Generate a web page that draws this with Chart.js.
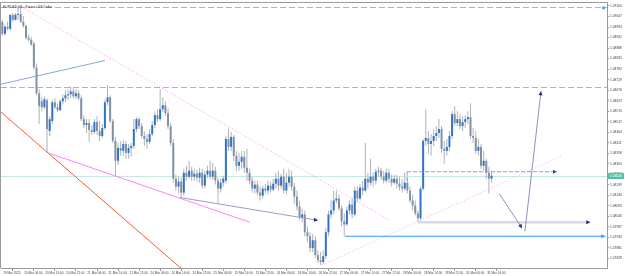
<!DOCTYPE html>
<html>
<head>
<meta charset="utf-8">
<script src="https://cdn.jsdelivr.net/npm/chart.js@4.4.1/dist/chart.umd.min.js"></script>
<style>
html,body{margin:0;padding:0;background:#fff;overflow:hidden}
canvas{display:block}
</style>
</head>
<body>
<canvas id="chart" width="625" height="276"></canvas>
<script>
const chartTitle = 'EURUSD,H1:  Euro vs US Dollar';

// one label every 8 bars
const timeLabels = ['19 Mar 2025','20 Mar 06:00','20 Mar 14:00','20 Mar 22:00','21 Mar 06:00','21 Mar 14:00',
  '21 Mar 22:00','24 Mar 06:00','24 Mar 14:00','24 Mar 22:00','25 Mar 06:00','25 Mar 14:00','25 Mar 22:00',
  '26 Mar 06:00','26 Mar 14:00','26 Mar 22:00','27 Mar 06:00','27 Mar 14:00','27 Mar 22:00','28 Mar 06:00',
  '28 Mar 14:00','28 Mar 22:00','31 Mar 06:00','31 Mar 14:00'];

const priceTicks = [1.09100,1.09047,1.08994,1.08941,1.08888,1.08835,1.08782,1.08729,1.08676,1.08623,
  1.08570,1.08517,1.08464,1.08411,1.08358,1.08305,1.08252,1.08199,1.08146,1.08093,1.08040,1.07987,
  1.07934,1.07881,1.07828];

// open, high, low, close
const ohlc = [
[1.09020,1.09030,1.08950,1.08960],[1.08960,1.09005,1.08950,1.08995],[1.08995,1.09020,1.08975,1.08985],
[1.08985,1.09060,1.08975,1.09055],[1.09055,1.09065,1.09020,1.09030],[1.09030,1.09065,1.09025,1.09055],
[1.09055,1.09095,1.09030,1.09060],[1.09060,1.09095,1.09015,1.09020],[1.09020,1.09050,1.08990,1.09000],
[1.09000,1.09005,1.08930,1.08940],[1.08940,1.08955,1.08920,1.08930],[1.08930,1.08945,1.08900,1.08905],
[1.08910,1.08920,1.08780,1.08790],[1.08790,1.08810,1.08650,1.08660],[1.08660,1.08680,1.08505,1.08595],
[1.08620,1.08640,1.08570,1.08590],[1.08590,1.08645,1.08580,1.08630],[1.08625,1.08635,1.08360,1.08480],
[1.08470,1.08545,1.08445,1.08530],[1.08520,1.08625,1.08505,1.08615],[1.08615,1.08635,1.08580,1.08590],
[1.08590,1.08610,1.08565,1.08575],[1.08575,1.08630,1.08570,1.08620],[1.08620,1.08655,1.08605,1.08635],
[1.08635,1.08675,1.08615,1.08650],[1.08650,1.08680,1.08625,1.08655],[1.08655,1.08695,1.08635,1.08670],
[1.08670,1.08685,1.08635,1.08645],[1.08645,1.08680,1.08630,1.08660],[1.08660,1.08675,1.08625,1.08635],
[1.08635,1.08650,1.08520,1.08530],[1.08530,1.08550,1.08485,1.08500],[1.08500,1.08530,1.08460,1.08510],
[1.08510,1.08530,1.08415,1.08475],[1.08475,1.08500,1.08450,1.08465],[1.08465,1.08530,1.08455,1.08515],
[1.08515,1.08545,1.08450,1.08470],[1.08470,1.08520,1.08420,1.08445],[1.08445,1.08505,1.08435,1.08485],
[1.08485,1.08630,1.08475,1.08615],[1.08615,1.08700,1.08600,1.08640],[1.08640,1.08650,1.08510,1.08520],
[1.08520,1.08530,1.08410,1.08420],[1.08420,1.08440,1.08245,1.08320],[1.08320,1.08410,1.08300,1.08385],
[1.08385,1.08420,1.08345,1.08370],[1.08370,1.08425,1.08345,1.08405],[1.08405,1.08420,1.08330,1.08360],
[1.08360,1.08405,1.08330,1.08385],[1.08385,1.08410,1.08340,1.08395],[1.08395,1.08530,1.08380,1.08480],
[1.08480,1.08540,1.08465,1.08530],[1.08530,1.08540,1.08480,1.08495],[1.08495,1.08510,1.08435,1.08445],
[1.08445,1.08470,1.08395,1.08430],[1.08430,1.08455,1.08380,1.08415],[1.08415,1.08480,1.08405,1.08455],
[1.08455,1.08520,1.08445,1.08500],[1.08500,1.08570,1.08485,1.08550],[1.08550,1.08580,1.08515,1.08530],
[1.08530,1.08680,1.08520,1.08580],[1.08580,1.08640,1.08565,1.08600],[1.08600,1.08620,1.08545,1.08560],
[1.08560,1.08585,1.08480,1.08495],[1.08495,1.08510,1.08395,1.08410],[1.08410,1.08430,1.08210,1.08230],
[1.08230,1.08250,1.08170,1.08190],[1.08190,1.08240,1.08155,1.08215],[1.08215,1.08235,1.08135,1.08160],
[1.08160,1.08280,1.08145,1.08260],[1.08260,1.08295,1.08220,1.08240],[1.08240,1.08320,1.08230,1.08270],
[1.08270,1.08290,1.08220,1.08240],[1.08240,1.08280,1.08220,1.08255],[1.08255,1.08275,1.08215,1.08235],
[1.08235,1.08285,1.08210,1.08260],[1.08260,1.08280,1.08180,1.08195],[1.08195,1.08270,1.08180,1.08250],
[1.08250,1.08295,1.08235,1.08270],[1.08270,1.08320,1.08230,1.08240],[1.08240,1.08310,1.08225,1.08270],
[1.08270,1.08290,1.08200,1.08220],[1.08220,1.08235,1.08105,1.08180],[1.08180,1.08230,1.08160,1.08210],
[1.08210,1.08245,1.08190,1.08230],[1.08220,1.08445,1.08205,1.08430],[1.08430,1.08480,1.08370,1.08390],
[1.08390,1.08465,1.08370,1.08440],[1.08440,1.08450,1.08320,1.08345],[1.08345,1.08370,1.08270,1.08295],
[1.08295,1.08360,1.08270,1.08315],[1.08315,1.08370,1.08280,1.08340],[1.08340,1.08370,1.08260,1.08285],
[1.08285,1.08380,1.08220,1.08260],[1.08260,1.08280,1.08200,1.08220],[1.08220,1.08240,1.08160,1.08180],
[1.08180,1.08220,1.08155,1.08200],[1.08200,1.08220,1.08145,1.08160],[1.08160,1.08190,1.08120,1.08145],
[1.08145,1.08195,1.08130,1.08180],[1.08180,1.08205,1.08155,1.08170],[1.08170,1.08220,1.08150,1.08195],
[1.08195,1.08215,1.08160,1.08175],[1.08175,1.08230,1.08165,1.08205],[1.08205,1.08260,1.08180,1.08230],
[1.08230,1.08270,1.08170,1.08195],[1.08195,1.08255,1.08180,1.08240],[1.08240,1.08280,1.08155,1.08170],
[1.08170,1.08260,1.08150,1.08210],[1.08210,1.08280,1.08190,1.08240],[1.08240,1.08270,1.08170,1.08190],
[1.08190,1.08210,1.08105,1.08140],[1.08140,1.08170,1.08070,1.08090],[1.08090,1.08120,1.08020,1.08035],
[1.08035,1.08080,1.08010,1.08050],[1.08050,1.08070,1.07940,1.07960],[1.07960,1.07990,1.07910,1.07940],
[1.07940,1.07960,1.07860,1.07880],[1.07880,1.07950,1.07860,1.07920],[1.07920,1.07940,1.07830,1.07845],
[1.07845,1.07870,1.07805,1.07820],[1.07820,1.07860,1.07795,1.07810],[1.07810,1.07870,1.07800,1.07840],
[1.07840,1.07980,1.07825,1.07960],[1.07960,1.08070,1.07940,1.08050],[1.08050,1.08120,1.08030,1.08070],
[1.08070,1.08170,1.08050,1.08120],[1.08120,1.08170,1.08105,1.08130],[1.08130,1.08150,1.08070,1.08080],
[1.08080,1.08095,1.07990,1.08015],[1.08015,1.08055,1.07940,1.08000],[1.08000,1.08090,1.07990,1.08070],
[1.08070,1.08120,1.08050,1.08100],[1.08100,1.08130,1.08030,1.08050],[1.08050,1.08190,1.08040,1.08170],
[1.08170,1.08190,1.08110,1.08130],[1.08130,1.08205,1.08120,1.08185],[1.08185,1.08220,1.08145,1.08170],
[1.08170,1.08410,1.08160,1.08230],[1.08230,1.08260,1.08180,1.08210],[1.08210,1.08330,1.08195,1.08240],
[1.08240,1.08260,1.08190,1.08220],[1.08220,1.08280,1.08200,1.08265],[1.08265,1.08290,1.08240,1.08270],
[1.08270,1.08285,1.08225,1.08240],[1.08240,1.08270,1.08205,1.08220],[1.08220,1.08280,1.08210,1.08260],
[1.08260,1.08280,1.08210,1.08230],[1.08230,1.08250,1.08190,1.08210],[1.08210,1.08250,1.08200,1.08230],
[1.08230,1.08250,1.08180,1.08205],[1.08205,1.08240,1.08170,1.08190],[1.08190,1.08230,1.08160,1.08180],
[1.08180,1.08260,1.08170,1.08210],[1.08210,1.08240,1.08155,1.08170],[1.08170,1.08190,1.08110,1.08120],
[1.08120,1.08150,1.08070,1.08095],[1.08095,1.08120,1.08045,1.08055],[1.08055,1.08070,1.08010,1.08030],
[1.08030,1.08190,1.08020,1.08180],[1.08180,1.08430,1.08170,1.08420],[1.08420,1.08580,1.08395,1.08435],
[1.08435,1.08470,1.08355,1.08405],[1.08405,1.08455,1.08345,1.08420],[1.08420,1.08480,1.08395,1.08445],
[1.08445,1.08495,1.08420,1.08460],[1.08460,1.08530,1.08435,1.08480],[1.08480,1.08495,1.08360,1.08380],
[1.08380,1.08420,1.08305,1.08370],[1.08370,1.08430,1.08345,1.08390],[1.08390,1.08470,1.08370,1.08445],
[1.08445,1.08570,1.08430,1.08555],[1.08555,1.08595,1.08495,1.08510],[1.08510,1.08570,1.08495,1.08530],
[1.08530,1.08555,1.08480,1.08495],[1.08495,1.08545,1.08470,1.08515],[1.08515,1.08550,1.08485,1.08530],
[1.08530,1.08570,1.08505,1.08540],[1.08540,1.08610,1.08430,1.08445],[1.08445,1.08485,1.08410,1.08435],
[1.08435,1.08470,1.08355,1.08370],[1.08370,1.08430,1.08345,1.08390],[1.08390,1.08405,1.08280,1.08295],
[1.08295,1.08370,1.08270,1.08320],[1.08320,1.08330,1.08230,1.08260],[1.08260,1.08290,1.08155,1.08230],
[1.08230,1.08270,1.08210,1.08245]
];

// drawn objects, in bar index / price
const levelLines = [1.09095, 1.08690];
const trendLines = [
  [-0.9, 1.08705, 39.0, 1.08825],
  [7.4, 1.09095, 147.4, 1.08020],
  [-0.9, 1.08570, 75.2, 1.07695],
  [17.4, 1.08360, 94.2, 1.08010],
  [67.6, 1.08135, 120.0, 1.08020],
  [121.6, 1.07795, 212.8, 1.08345],
  [130.3, 1.07940, 229.2, 1.07940],
  [158.1, 1.08010, 223.5, 1.08010],
  [153.9, 1.08265, 210.9, 1.08265],
  [153.9, 1.08265, 153.9, 1.08220],
  [188.9, 1.08155, 197.6, 1.07980],
  [198.7, 1.07965, 204.8, 1.08670]
];
const levelMarker = [228.6, 1.09090];

const lineStyles = [
  {color: '#8aa6e6', width: 1},
  {color: '#ff8cff', width: 1, dash: [1, 2]},
  {color: '#ff5533', width: 1},
  {color: '#ff80ff', width: 1},
  {color: '#9b9bc9', width: 1, arrow: '#232b82'},
  {color: '#ff9cff', width: 1, dash: [1, 2]},
  {color: '#3399ff', width: 1.2, arrow: '#3399ff'},
  {color: '#dcd8ec', width: 2.5, arrow: '#252a80'},
  {color: '#9696e0', width: 1, dash: [4, 2], arrow: '#3a3ad0'},
  {color: '#9696e0', width: 1, dash: [4, 2]},
  {color: '#8f8fbf', width: 1, arrow: '#252a80'},
  {color: '#8f8fbf', width: 1, arrow: '#252a80'}
];

const bullColor = '#2f74c8';
const bearColor = '#8190a6';
const wickColor = '#aeb2b8';
const fontFamily = '"Liberation Sans", "DejaVu Sans", sans-serif';
const lastClose = ohlc[ohlc.length - 1][3];

function seg(ctx, x1, y1, x2, y2, color, width, dash) {
    ctx.beginPath();
    ctx.strokeStyle = color;
    ctx.lineWidth = width;
    ctx.setLineDash(dash || []);
    ctx.moveTo(x1, y1);
    ctx.lineTo(x2, y2);
    ctx.stroke();
    ctx.setLineDash([]);
}

function arrowHead(ctx, x1, y1, x2, y2, color) {
    const a = Math.atan2(y2 - y1, x2 - x1);
    const len = 4, half = 2;
    ctx.beginPath();
    ctx.fillStyle = color;
    ctx.moveTo(x2, y2);
    ctx.lineTo(x2 - len * Math.cos(a) + half * Math.sin(a), y2 - len * Math.sin(a) - half * Math.cos(a));
    ctx.lineTo(x2 - len * Math.cos(a) - half * Math.sin(a), y2 - len * Math.sin(a) + half * Math.cos(a));
    ctx.closePath();
    ctx.fill();
}

const drawings = {
    id: 'drawings',
    beforeDatasetsDraw(chart) {
        const {ctx, chartArea: a, scales: {x, y}} = chart;
        ctx.save();
        ctx.beginPath();
        ctx.rect(a.left, a.top, a.right - a.left, a.bottom - a.top);
        ctx.clip();
        levelLines.forEach(p => {
            const py = Math.round(y.getPixelForValue(p)) + 0.5;
            seg(ctx, a.left, py, a.right, py, '#8cbdf2', 1, [6, 3]);
        });
        const by = Math.round(y.getPixelForValue(lastClose)) + 0.5;
        seg(ctx, a.left, by, a.right, by, '#c4e9df', 1);
        ctx.restore();
    },
    afterDatasetsDraw(chart) {
        const {ctx, chartArea: a, scales: {x, y}} = chart;
        ctx.save();
        ctx.beginPath();
        ctx.rect(a.left, a.top, a.right - a.left, a.bottom - a.top);
        ctx.clip();
        trendLines.forEach((t, k) => {
            const st = lineStyles[k];
            const x1 = x.getPixelForValue(t[0]), y1 = y.getPixelForValue(t[1]);
            const x2 = x.getPixelForValue(t[2]), y2 = y.getPixelForValue(t[3]);
            seg(ctx, x1, y1, x2, y2, st.color, st.width, st.dash);
            if (st.arrow) arrowHead(ctx, x1, y1, x2, y2, st.arrow);
        });
        ctx.beginPath();
        ctx.fillStyle = '#5aa0f0';
        ctx.arc(x.getPixelForValue(levelMarker[0]), y.getPixelForValue(levelMarker[1]), 1.6, 0, Math.PI * 2);
        ctx.fill();
        ctx.restore();
    },
    afterDraw(chart) {
        const {ctx, chartArea: a, scales: {y}} = chart;
        ctx.save();
        seg(ctx, a.left - 0.5, a.top - 0.5, a.right, a.top - 0.5, '#9a9a9a', 1);
        seg(ctx, a.left - 0.5, a.top - 0.5, a.left - 0.5, a.bottom, '#9a9a9a', 1);
        ctx.font = '3.4px ' + fontFamily;
        ctx.fillStyle = '#333';
        ctx.textBaseline = 'top';
        ctx.textAlign = 'left';
        ctx.fillText(chartTitle, a.left + 2, a.top + 2);
        // current price box
        const by = Math.round(y.getPixelForValue(lastClose));
        ctx.fillStyle = '#52c0a4';
        ctx.fillRect(a.right + 1, by - 3, 16, 6);
        ctx.fillStyle = '#ffffff';
        ctx.textBaseline = 'middle';
        ctx.fillText(lastClose.toFixed(5), a.right + 3, by + 0.5);
        ctx.restore();
    }
};

const ctx = document.getElementById('chart').getContext('2d');
new Chart(ctx, {
    type: 'bar',
    data: {
        datasets: [{
            label: 'body',
            data: ohlc.map((c, i) => ({x: i, y: [c[0], c[3]]})),
            backgroundColor: ohlc.map(c => c[3] >= c[0] ? bullColor : bearColor),
            barThickness: 2,
            inflateAmount: 0,
            grouped: false,
            order: 0
        }, {
            label: 'wick',
            data: ohlc.map((c, i) => ({x: i, y: [c[2], c[1]]})),
            backgroundColor: wickColor,
            barThickness: 1,
            inflateAmount: 0,
            grouped: false,
            order: 1
        }]
    },
    options: {
        responsive: false,
        animation: false,
        devicePixelRatio: 1,
        layout: {padding: {top: 1, left: 1, right: 0, bottom: 0}},
        plugins: {legend: {display: false}, tooltip: {enabled: false}},
        scales: {
            x: {
                type: 'linear',
                offset: false,
                min: -0.5,
                max: 229.9,
                grid: {drawOnChartArea: false, drawTicks: true, tickLength: 3, color: '#9a9a9a'},
                border: {color: '#9a9a9a'},
                ticks: {
                    align: 'start', padding: 0, maxRotation: 0, autoSkip: false,
                    color: '#444', font: {family: fontFamily, size: 3.1},
                    callback: v => ' ' + timeLabels[v / 8]
                },
                afterBuildTicks: s => { s.ticks = timeLabels.map((t, k) => ({value: k * 8})); },
                afterFit: s => { s.height = 8; }
            },
            y: {
                position: 'right',
                min: 1.07780,
                max: 1.09115,
                grid: {drawOnChartArea: false, drawTicks: true, tickLength: 2, color: '#9a9a9a'},
                border: {color: '#9a9a9a'},
                ticks: {
                    padding: 1, color: '#444', font: {family: fontFamily, size: 3.3},
                    callback: v => v.toFixed(5)
                },
                afterBuildTicks: s => { s.ticks = priceTicks.map(v => ({value: v})); },
                afterFit: s => { s.width = 18; }
            }
        }
    },
    plugins: [drawings]
});
</script>
</body>
</html>
